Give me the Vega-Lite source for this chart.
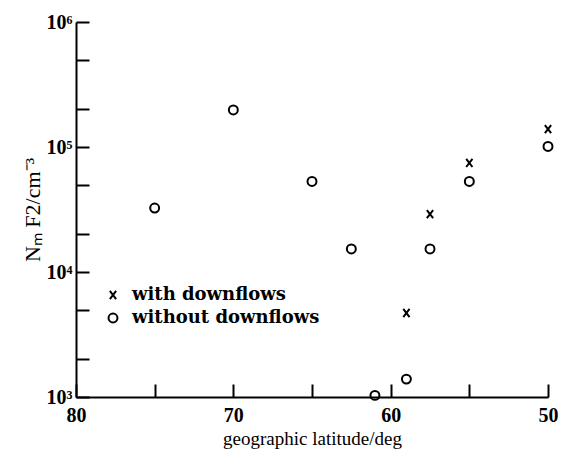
{
  "$schema": "https://vega.github.io/schema/vega-lite/v6.json",
  "width": 472,
  "height": 375,
  "autosize": "none",
  "padding": {"left": 76, "top": 22, "right": 18, "bottom": 71},
  "background": "white",
  "config": {
    "view": {"stroke": null},
    "font": "Liberation Serif",
    "axis": {
      "grid": false,
      "domainColor": "black",
      "domainWidth": 2,
      "tickColor": "black",
      "tickWidth": 2,
      "labelColor": "black",
      "titleColor": "black",
      "labelFlush": false,
      "labelOverlap": false,
      "labelFont": "Liberation Serif",
      "titleFont": "Liberation Serif"
    }
  },
  "data": {
    "values": [
      {"lat": 75, "nm": 32500, "type": "without downflows"},
      {"lat": 70, "nm": 198000, "type": "without downflows"},
      {"lat": 65, "nm": 53000, "type": "without downflows"},
      {"lat": 62.5, "nm": 15300, "type": "without downflows"},
      {"lat": 61, "nm": 1030, "type": "without downflows"},
      {"lat": 59, "nm": 1390, "type": "without downflows"},
      {"lat": 57.5, "nm": 15300, "type": "without downflows"},
      {"lat": 55, "nm": 53000, "type": "without downflows"},
      {"lat": 50, "nm": 101000, "type": "without downflows"},
      {"lat": 59, "nm": 4700, "type": "with downflows"},
      {"lat": 57.5, "nm": 29000, "type": "with downflows"},
      {"lat": 55, "nm": 74500, "type": "with downflows"},
      {"lat": 50, "nm": 139000, "type": "with downflows"}
    ]
  },
  "resolve": {"axis": {"x": "independent", "y": "independent"}},
  "layer": [
    {
      "mark": {"type": "point", "filled": false, "strokeWidth": 2, "opacity": 1},
      "encoding": {
        "x": {
          "field": "lat",
          "type": "quantitative",
          "scale": {"domain": [80, 50], "nice": false, "zero": false},
          "axis": {
            "orient": "bottom",
            "title": "geographic latitude/deg",
            "titleFontSize": 19,
            "titleFontWeight": "normal",
            "titlePadding": 4,
            "values": [80, 70, 60, 50],
            "labelFontSize": 20,
            "labelFontWeight": "bold",
            "ticks": false,
            "labelPadding": 8
          }
        },
        "y": {
          "field": "nm",
          "type": "quantitative",
          "scale": {"type": "log", "domain": [1000, 1000000], "nice": false},
          "axis": {
            "orient": "left",
            "title": "Nₘ F2/cm⁻³",
            "titleFontSize": 22,
            "titleFontWeight": "normal",
            "titlePadding": 2,
            "values": [1000, 2000, 5000, 10000, 20000, 50000, 100000, 200000, 500000, 1000000],
            "labelExpr": "datum.value == 1000 ? '10³' : datum.value == 10000 ? '10⁴' : datum.value == 100000 ? '10⁵' : datum.value == 1000000 ? '10⁶' : ''",
            "labelFontSize": 20,
            "labelFontWeight": "bold",
            "tickSize": -13,
            "labelPadding": 17
          }
        },
        "shape": {
          "field": "type",
          "type": "nominal",
          "scale": {
            "domain": ["with downflows", "without downflows"],
            "range": ["M-0.7,-0.9L0.7,0.9M-0.7,0.9L0.7,-0.9", "circle"]
          },
          "legend": {
            "title": null,
            "orient": "none",
            "legendX": 28,
            "legendY": 264,
            "labelFontSize": 18,
            "labelFont": "DejaVu Serif",
            "labelFontWeight": "bold",
            "labelColor": "black",
            "labelLimit": 400,
            "symbolStrokeColor": "black",
            "symbolStrokeWidth": 2,
            "symbolSize": 80,
            "symbolFillColor": "transparent",
            "rowPadding": 5,
            "labelOffset": 10
          }
        },
        "color": {"value": "black"},
        "size": {"value": 80}
      }
    },
    {
      "mark": {"type": "point", "opacity": 0},
      "encoding": {
        "x": {
          "field": "lat",
          "type": "quantitative",
          "scale": {"domain": [80, 50], "nice": false, "zero": false},
          "axis": {
            "orient": "bottom",
            "offset": -13,
            "domain": false,
            "labels": false,
            "title": null,
            "values": [80, 75, 70, 65, 60, 55, 50],
            "ticks": true,
            "tickSize": 13
          }
        },
        "y": {
          "field": "nm",
          "type": "quantitative",
          "scale": {"type": "log", "domain": [1000, 1000000], "nice": false},
          "axis": null
        }
      }
    }
  ]
}
